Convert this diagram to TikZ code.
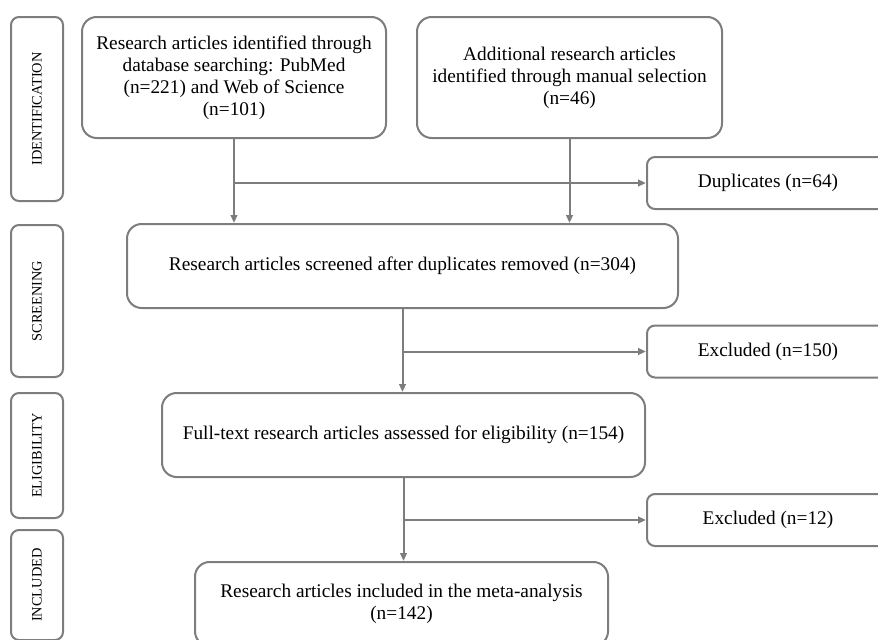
\documentclass[tikz,border=0pt]{standalone}
\usepackage{fontspec}
\setmainfont{Liberation Serif}
\usetikzlibrary{arrows.meta,positioning}
\definecolor{boxgray}{RGB}{125,125,125}

\tikzset{
  stagebox/.style={draw=boxgray, line width=1.5pt, rounded corners=11pt, align=center,
    inner sep=0pt, font=\fontsize{14.5}{16.5}\selectfont},
  sidebox/.style={draw=boxgray, line width=1.5pt, rounded corners=6pt, inner sep=0pt,
    rotate=90, minimum height=39pt, font=\fontsize{10.8}{12}\selectfont},
  outbox/.style={stagebox, rounded corners=6pt, minimum width=181.5pt, minimum height=39pt},
  flow/.style={draw=boxgray, line width=1.5pt, -{Triangle[length=6pt,width=5pt]}},
}

\begin{document}
\begin{tikzpicture}[x=0.75pt, y=-0.75pt]
\useasboundingbox (0,0) rectangle (878,639);
\clip (0,0) rectangle (878,639);

% phase labels on the left
\foreach \nm/\y/\h/\txt in {lid/109/138/IDENTIFICATION, lscr/301/114/SCREENING,
    lel/455.5/93.75/ELIGIBILITY, linc/585/82.5/INCLUDED} {
\node (\nm) at (37,\y) [sidebox, minimum width=\h pt] {\txt};
}

\node (rec1) at (234,77.5) [stagebox, minimum width=228pt, minimum height=90.75pt]
  {Research articles identified through\\database searching: PubMed\\(n=221) and Web of Science\\(n=101)};
\node (rec2) at (569.5,77.5) [stagebox, minimum width=228.75pt, minimum height=90.75pt]
  {Additional research articles\\identified through manual selection\\(n=46)};
\node (dup) at (768,183) [outbox] {Duplicates (n=64)};

\node (scrn) at (402.5,266) [stagebox, minimum width=413.25pt, minimum height=63pt]
  {Research articles screened after duplicates removed (n=304)};
\node (exc1) at (768,351.5) [outbox] {Excluded (n=150)};

\node (full) at (403.5,435) [stagebox, minimum width=362.25pt, minimum height=63pt]
  {Full-text research articles assessed for eligibility (n=154)};
\node (exc2) at (768,520) [outbox] {Excluded (n=12)};

\node (incl) at (401.5,604) [stagebox, minimum width=309.75pt, minimum height=63pt]
  {Research articles included in the meta-analysis\\(n=142)};

% connectors
\draw[flow] (rec1.south) -- (rec1.south |- scrn.north);
\draw[flow] (rec2.south) -- (rec2.south |- scrn.north);
\draw[flow] (rec1.south |- dup.west) -- (dup.west);
\draw[flow] (scrn.south) -- (scrn.south |- full.north);
\draw[flow] (scrn.south |- exc1.west) -- (exc1.west);
\draw[flow] (full.south) -- (full.south |- incl.north);
\draw[flow] (full.south |- exc2.west) -- (exc2.west);
\end{tikzpicture}
\end{document}
